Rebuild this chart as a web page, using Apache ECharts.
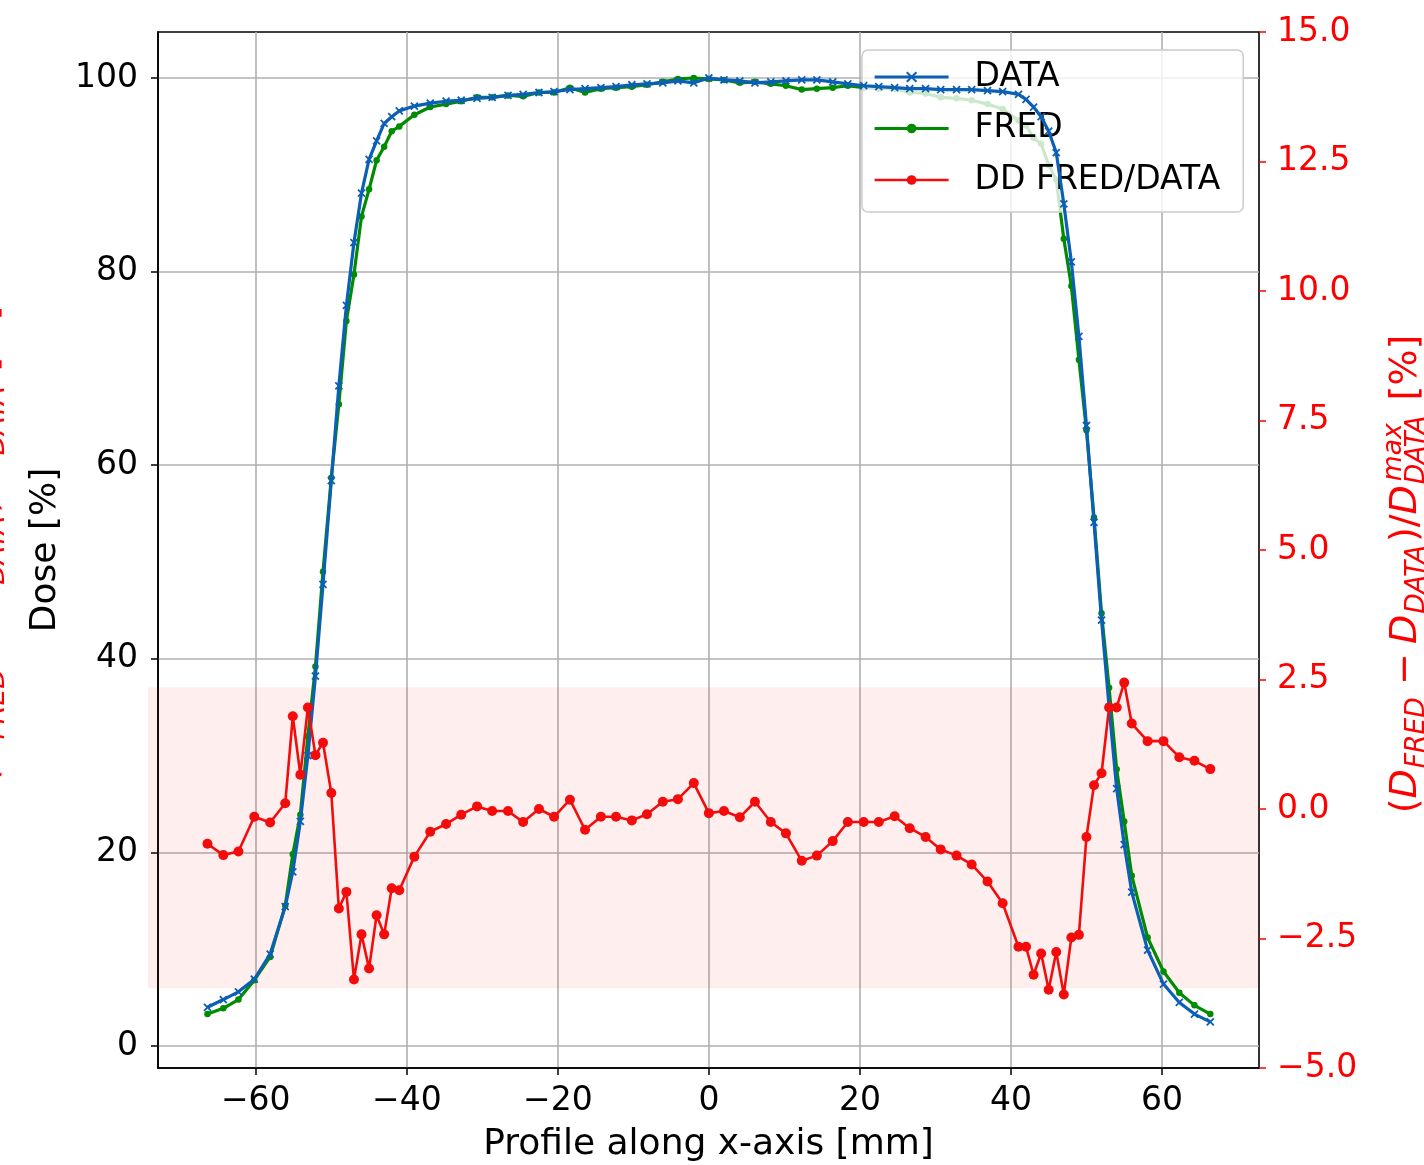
<!DOCTYPE html>
<html>
<head>
<meta charset="utf-8">
<script src="https://cdn.jsdelivr.net/npm/echarts@6/dist/echarts.min.js"></script>
<style>
html,body{margin:0;padding:0;background:#fff;}
#chart{width:1424px;height:1165px;}
</style>
</head>
<body>
<div id="chart"></div>
<script>
// ---------------- data ----------------
const xPos = [-66.4,-64.3,-62.3,-60.2,-58.1,
  -56.1,-55.1,-54.1,-53.1,-52.1,-51.1,-50.0,-49.0,-48.0,-47.0,-46.0,-45.0,-44.0,-43.0,-42.0,-41.0,
  -39.0,-36.9,-34.8,-32.8,-30.7,-28.7,-26.6,-24.6,-22.5,-20.5,-18.4,-16.4,-14.3,-12.3,-10.2,-8.2,-6.1,-4.1,-2.0,
  0.0,2.0,4.1,6.1,8.2,10.2,12.3,14.3,16.4,18.4,20.5,22.5,24.6,26.6,28.7,30.7,32.8,34.8,36.9,38.9,
  41.0,42.0,43.0,44.0,45.0,46.0,47.0,48.0,49.0,50.0,51.0,52.0,53.0,54.0,55.0,56.0,
  58.1,60.2,62.3,64.3,66.4];

const doseData = [4.0,4.8,5.6,6.9,9.5,
  14.4,18.0,23.2,30.0,38.2,47.7,58.4,68.2,76.5,83.0,88.1,91.6,93.5,95.3,96.0,96.6,
  97.1,97.4,97.6,97.7,97.9,98.0,98.2,98.3,98.5,98.6,98.8,98.9,99.0,99.1,99.3,99.4,99.5,99.7,99.5,
  100.0,99.8,99.7,99.5,99.6,99.7,99.8,99.8,99.6,99.4,99.2,99.1,99.0,98.9,98.9,98.8,98.8,98.8,98.7,98.6,
  98.3,97.8,97.0,96.0,94.5,92.3,87.0,81.0,73.3,64.1,54.1,44.0,35.0,26.6,20.8,15.9,
  9.9,6.4,4.5,3.3,2.5];

const doseFred = [3.3,3.9,4.8,6.8,9.2,
  14.5,19.8,23.9,32.0,39.2,49.0,58.7,66.3,74.9,79.7,85.7,88.5,91.5,92.9,94.5,95.0,
  96.2,97.0,97.3,97.6,98.0,98.0,98.2,98.1,98.5,98.5,99.0,98.5,98.9,99.0,99.1,99.3,99.6,99.9,100.0,
  99.9,99.8,99.5,99.6,99.4,99.2,98.8,98.9,99.0,99.2,99.0,98.9,98.9,98.5,98.4,98.0,97.9,97.7,97.3,96.8,
  95.6,95.1,93.8,93.2,91.0,89.5,83.4,78.5,70.9,63.6,54.6,44.7,37.0,28.6,23.2,17.6,
  11.2,7.7,5.5,4.2,3.3];

const ddValues = [-0.67,-0.89,-0.82,-0.15,-0.26,
  0.11,1.79,0.66,1.96,1.04,1.28,0.31,-1.92,-1.60,-3.29,-2.42,-3.08,-2.05,-2.42,-1.53,-1.57,
  -0.92,-0.44,-0.29,-0.11,0.05,-0.04,-0.04,-0.25,0.00,-0.15,0.18,-0.40,-0.15,-0.15,-0.22,-0.10,0.14,0.19,0.50,
  -0.08,-0.04,-0.16,0.14,-0.25,-0.47,-1.00,-0.90,-0.62,-0.25,-0.25,-0.25,-0.14,-0.37,-0.54,-0.78,-0.90,-1.07,-1.40,-1.82,
  -2.66,-2.66,-3.20,-2.79,-3.49,-2.76,-3.58,-2.48,-2.43,-0.54,0.46,0.69,1.96,1.96,2.44,1.65,
  1.31,1.31,1.00,0.93,0.77];

const xTicks = [-60,-40,-20,0,20,40,60];
const doseTicks = [0,20,40,60,80,100];
const ddBand = [2.35,-3.46];
const seriesNames = ['DATA','FRED','DD FRED/DATA'];

// ---------------- chart ----------------
const FONT = 'DejaVu Sans';
const BLUE = '#0b5fb5', GREEN = '#008c00', RED = '#f20c0c', LABEL_RED = '#ff0000';
const minus = v => String(v).replace('-', '\u2212');
const pairs = (xs, ys) => xs.map((x, i) => [x, ys[i]]);

const chart = echarts.init(document.getElementById('chart'), null, {renderer: 'canvas'});

const option = {
  animation: false,
  backgroundColor: '#ffffff',
  textStyle: {fontFamily: FONT},
  grid: {left: 158, right: 165, top: 32, bottom: 97, show: true,
         borderColor: '#000', borderWidth: 1.6, backgroundColor: 'rgba(0,0,0,0)',
         containLabel: false, outerBoundsMode: 'none'},
  legend: {
    data: [
      {name: seriesNames[0], lineStyle: {width: 3.2}},
      {name: seriesNames[1], lineStyle: {width: 3.2}},
      {name: seriesNames[2], lineStyle: {width: 2.6}}
    ],
    orient: 'vertical', left: 862, top: 50,
    padding: [9, 23, 14, 11],
    itemWidth: 74, itemHeight: 12, itemGap: 15.5,
    backgroundColor: 'rgba(255,255,255,0.8)', borderColor: '#cccccc', borderWidth: 1.5, borderRadius: 6,
    textStyle: {fontSize: 33, color: '#000', fontFamily: FONT, padding: [0, 0, 0, 21], lineHeight: 36},
    selectedMode: false
  },
  xAxis: {
    type: 'value', min: -72.95, max: 72.85,
    axisLine: {show: true, onZero: false, lineStyle: {color: '#000', width: 1.6}},
    axisTick: {show: true, length: 7, lineStyle: {color: '#000', width: 1.5}, customValues: xTicks},
    axisLabel: {customValues: xTicks, formatter: v => minus(v), fontSize: 33, color: '#000', margin: 17, fontFamily: FONT},
    splitLine: {show: true, lineStyle: {color: '#b0b0b0', width: 1.6}},
    name: 'Profile along x-axis [mm]', nameLocation: 'middle', nameGap: 59,
    nameTextStyle: {fontSize: 36, color: '#000', fontFamily: FONT}
  },
  yAxis: [{
    type: 'value', min: -2.27, max: 104.75, position: 'left',
    axisLine: {show: true, onZero: false, lineStyle: {color: '#000', width: 1.6}},
    axisTick: {show: true, length: 7, lineStyle: {color: '#000', width: 1.5}, customValues: doseTicks},
    axisLabel: {customValues: doseTicks, fontSize: 33, color: '#000', margin: 20, fontFamily: FONT},
    splitLine: {show: true, lineStyle: {color: '#b0b0b0', width: 1.6}},
    name: 'Dose [%]', nameLocation: 'middle', nameRotate: 90, nameGap: 94,
    nameTextStyle: {fontSize: 36, color: '#000', fontFamily: FONT}
  }, {
    type: 'value', min: -5, max: 15, interval: 2.5, position: 'right',
    axisLine: {show: false, onZero: false},
    axisTick: {show: true, length: 7, lineStyle: {color: LABEL_RED, width: 1.5}},
    axisLabel: {formatter: v => minus(v.toFixed(1)), fontSize: 33, color: LABEL_RED, margin: 18, fontFamily: FONT},
    splitLine: {show: false}
  }],
  series: [{
    name: 'FRED', type: 'line', xAxisIndex: 0, yAxisIndex: 0,
    data: pairs(xPos, doseFred),
    color: GREEN,
    lineStyle: {color: GREEN, width: 3.2},
    symbol: 'circle', symbolSize: 6.5, showSymbol: true,
    itemStyle: {color: GREEN},
    emphasis: {disabled: true}, z: 3
  }, {
    name: 'DATA', type: 'line', xAxisIndex: 0, yAxisIndex: 0,
    data: pairs(xPos, doseData),
    color: BLUE,
    lineStyle: {color: BLUE, width: 3.2},
    symbol: 'path://M0,0L10,10M10,0L0,10', symbolSize: 7, showSymbol: true,
    itemStyle: {color: 'rgba(0,0,0,0)', borderColor: BLUE, borderWidth: 1.8},
    emphasis: {disabled: true}, z: 4
  }, {
    name: 'DD FRED/DATA', type: 'line', xAxisIndex: 0, yAxisIndex: 1,
    data: pairs(xPos, ddValues),
    color: RED,
    lineStyle: {color: RED, width: 2.6},
    symbol: 'circle', symbolSize: 10, showSymbol: true,
    itemStyle: {color: RED},
    emphasis: {disabled: true}, z: 5
  }]
};
chart.setOption(option);

// ---------------- band + math axis title (layout via axis conversion) ----------------
const yTop = chart.convertToPixel({yAxisIndex: 1}, ddBand[0]);
const yBot = chart.convertToPixel({yAxisIndex: 1}, ddBand[1]);
const xLeft = chart.convertToPixel({xAxisIndex: 0}, -72.95);
const xRight = chart.convertToPixel({xAxisIndex: 0}, 72.85);

function mathTitle(cx, cy, color, id) {
  const S = 38, s = 26.6;
  const cvs = document.createElement('canvas').getContext('2d');
  const meas = (t, sz, it) => { cvs.font = (it ? 'italic ' : '') + sz + 'px "' + FONT + '"'; return cvs.measureText(t).width; };
  const subDy = 0.35 * S + 0.2 * S - 0.35 * s;
  const supDy = 0.35 * S - 0.42 * S - 0.35 * s;
  const seq = [
    {t: '(', sz: S},
    {t: 'D', sz: S, it: true},
    {t: 'FRED', sz: s, it: true, dy: subDy, padL: 1, padR: 3},
    {t: '\u2212', sz: S, padL: 0.24 * S, padR: 0.24 * S},
    {t: 'D', sz: S, it: true},
    {t: 'DATA', sz: s, it: true, dy: subDy, padL: 1, padR: 3},
    {t: ')/', sz: S},
    {t: 'D', sz: S, it: true},
    {t: 'max', sz: s, it: true, dy: supDy, noAdv: true, padL: 4},
    {t: 'DATA', sz: s, it: true, dy: subDy, padL: 1, padR: 3},
    {t: ' [%]', sz: S}
  ];
  let x = 0; const placed = [];
  seq.forEach(p => {
    x += p.padL || 0;
    placed.push({p: p, x: x});
    if (!p.noAdv) x += meas(p.t, p.sz, p.it) + (p.padR || 0);
    else x -= p.padL || 0;
  });
  const W = x;
  return {
    type: 'group', id: id, x: cx, y: cy, rotation: Math.PI / 2, silent: true,
    children: placed.map(q => ({
      type: 'text', x: q.x - W / 2, y: q.p.dy || 0,
      style: {text: q.p.t, fontSize: q.p.sz, fontFamily: FONT, fontStyle: q.p.it ? 'italic' : 'normal',
              fill: color, align: 'left', verticalAlign: 'middle'}
    }))
  };
}

chart.setOption({
  graphic: [
    {type: 'rect', id: 'band', silent: true, z: 1,
     shape: {x: xLeft - 10, y: yTop, width: xRight - xLeft + 10, height: yBot - yTop},
     style: {fill: 'rgba(250,0,0,0.068)'}},
    mathTitle(1406, 574, LABEL_RED, 'rtitle'),
    mathTitle(-14, 545, LABEL_RED, 'ghost')
  ]
});
</script>
</body>
</html>
